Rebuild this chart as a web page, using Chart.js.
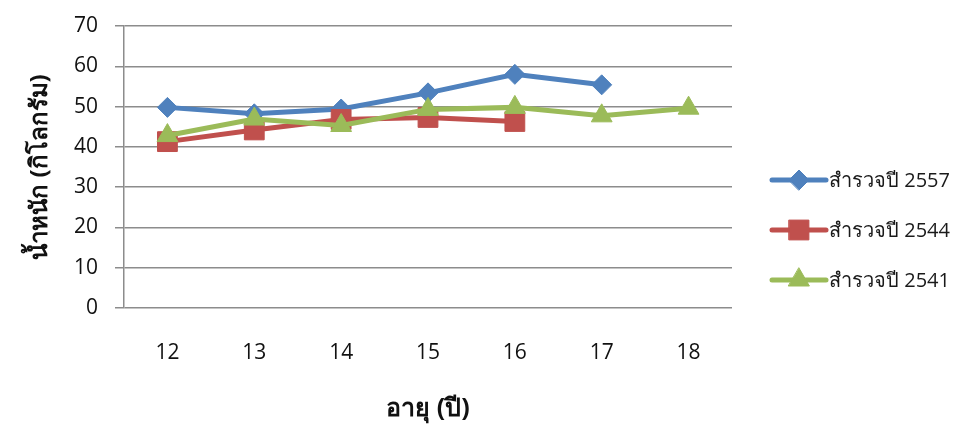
<!DOCTYPE html>
<html>
<head>
<meta charset="utf-8">
<script src="https://cdn.jsdelivr.net/npm/chart.js@4/dist/chart.umd.min.js"></script>
<style>
  html, body { margin: 0; padding: 0; background: #fff; }
  #wrap { width: 953px; height: 424px; }
</style>
</head>
<body>
<div id="wrap"><canvas id="weightChart" width="953" height="424"></canvas></div>
<script>
// ages (years)
const ages = ["12", "13", "14", "15", "16", "17", "18"];

// average weight (kg) per survey year
const survey2557 = [49.8, 48.2, 49.4, 53.4, 58.0, 55.4, null];
const survey2544 = [41.3, 44.2, 46.8, 47.3, 46.3, null, null];
const survey2541 = [42.8, 46.9, 45.3, 49.3, 49.8, 47.7, 49.6];

// legend order (top to bottom)
const seriesNames = ["สำรวจปี 2557", "สำรวจปี 2544", "สำรวจปี 2541"];

const yTicks = [0, 10, 20, 30, 40, 50, 60, 70];

const FONT = "'Open Sans', 'Noto Sans', sans-serif";

// legend drawn like Excel: a line with the marker in the middle
const sideLegend = {
    id: "sideLegend",
    afterDraw(chart) {
        let ctx = chart.ctx;
        let x0 = 772, x1 = 826;
        let ys = [180, 230, 280];
        seriesNames.forEach((name, i) => {
            let ds = chart.data.datasets.find(d => d.label === name);
            let y = ys[i];
            ctx.save();
            ctx.strokeStyle = ds.borderColor;
            ctx.lineWidth = ds.borderWidth;
            ctx.lineCap = "round";
            ctx.beginPath();
            ctx.moveTo(x0, y);
            ctx.lineTo(x1, y);
            ctx.stroke();
            ctx.fillStyle = ds.pointBackgroundColor;
            ctx.strokeStyle = ds.pointBorderColor;
            ctx.lineWidth = 1;
            Chart.helpers.drawPoint(ctx, {
                pointStyle: ds.pointStyle,
                radius: ds.pointRadius,
                rotation: 0,
                borderWidth: 1
            }, (x0 + x1) / 2, y);
            ctx.restore();
            ctx.save();
            ctx.fillStyle = "#1a1a1a";
            ctx.font = "20px " + FONT;
            ctx.textBaseline = "middle";
            ctx.fillText(ds.label, x1 + 3, y + 1);
            ctx.restore();
        });
    }
};

function makeSet(label, data, color, style, radius) {
    return {
        label: label,
        data: data,
        borderColor: color,
        borderWidth: 5,
        backgroundColor: color,
        pointStyle: style,
        pointRadius: radius,
        pointHoverRadius: radius,
        pointBackgroundColor: color,
        pointBorderColor: color,
        pointBorderWidth: 1,
        tension: 0,
        spanGaps: false
    };
}

let ctx = document.getElementById("weightChart").getContext("2d");
new Chart(ctx, {
    type: "line",
    data: {
        labels: ages,
        // first dataset is painted on top, as in the original (2541 over the rest)
        datasets: [
            makeSet(seriesNames[2], survey2541, "#9BBB59", "triangle", 12),
            makeSet(seriesNames[1], survey2544, "#C0504D", "rect", 14),
            makeSet(seriesNames[0], survey2557, "#4F81BD", "rectRot", 10)
        ]
    },
    options: {
        responsive: false,
        animation: false,
        layout: { padding: { top: 26, right: 221, bottom: 0, left: 0 } },
        plugins: {
            legend: { display: false },
            tooltip: { enabled: false }
        },
        scales: {
            x: {
                offset: true,
                afterFit: s => { s.height = 116; },
                grid: { display: false, drawTicks: false },
                border: { display: false },
                ticks: {
                    color: "#111",
                    font: { size: 21, family: FONT },
                    padding: 32
                },
                title: {
                    display: true,
                    text: "อายุ (ปี)",
                    color: "#111",
                    font: { size: 25, weight: "bold", family: FONT },
                    padding: { top: 0, bottom: 0 }
                }
            },
            y: {
                min: 0,
                max: 70,
                afterFit: s => { s.width = 124; s.paddingTop = 0; s.paddingBottom = 0; },
                afterBuildTicks: axis => { axis.ticks = yTicks.map(v => ({ value: v })); },
                grid: {
                    color: "#8c8c8c",
                    lineWidth: 1.5,
                    drawTicks: true,
                    tickLength: 9
                },
                border: { color: "#8c8c8c", width: 1.5 },
                ticks: {
                    color: "#111",
                    font: { size: 21, family: FONT },
                    padding: 17
                },
                title: {
                    display: true,
                    text: "น้ำหนัก (กิโลกรัม)",
                    color: "#111",
                    font: { size: 24, weight: "bold", family: FONT },
                    padding: { top: 26, bottom: 0 }
                }
            }
        }
    },
    plugins: [sideLegend]
});
</script>
</body>
</html>
